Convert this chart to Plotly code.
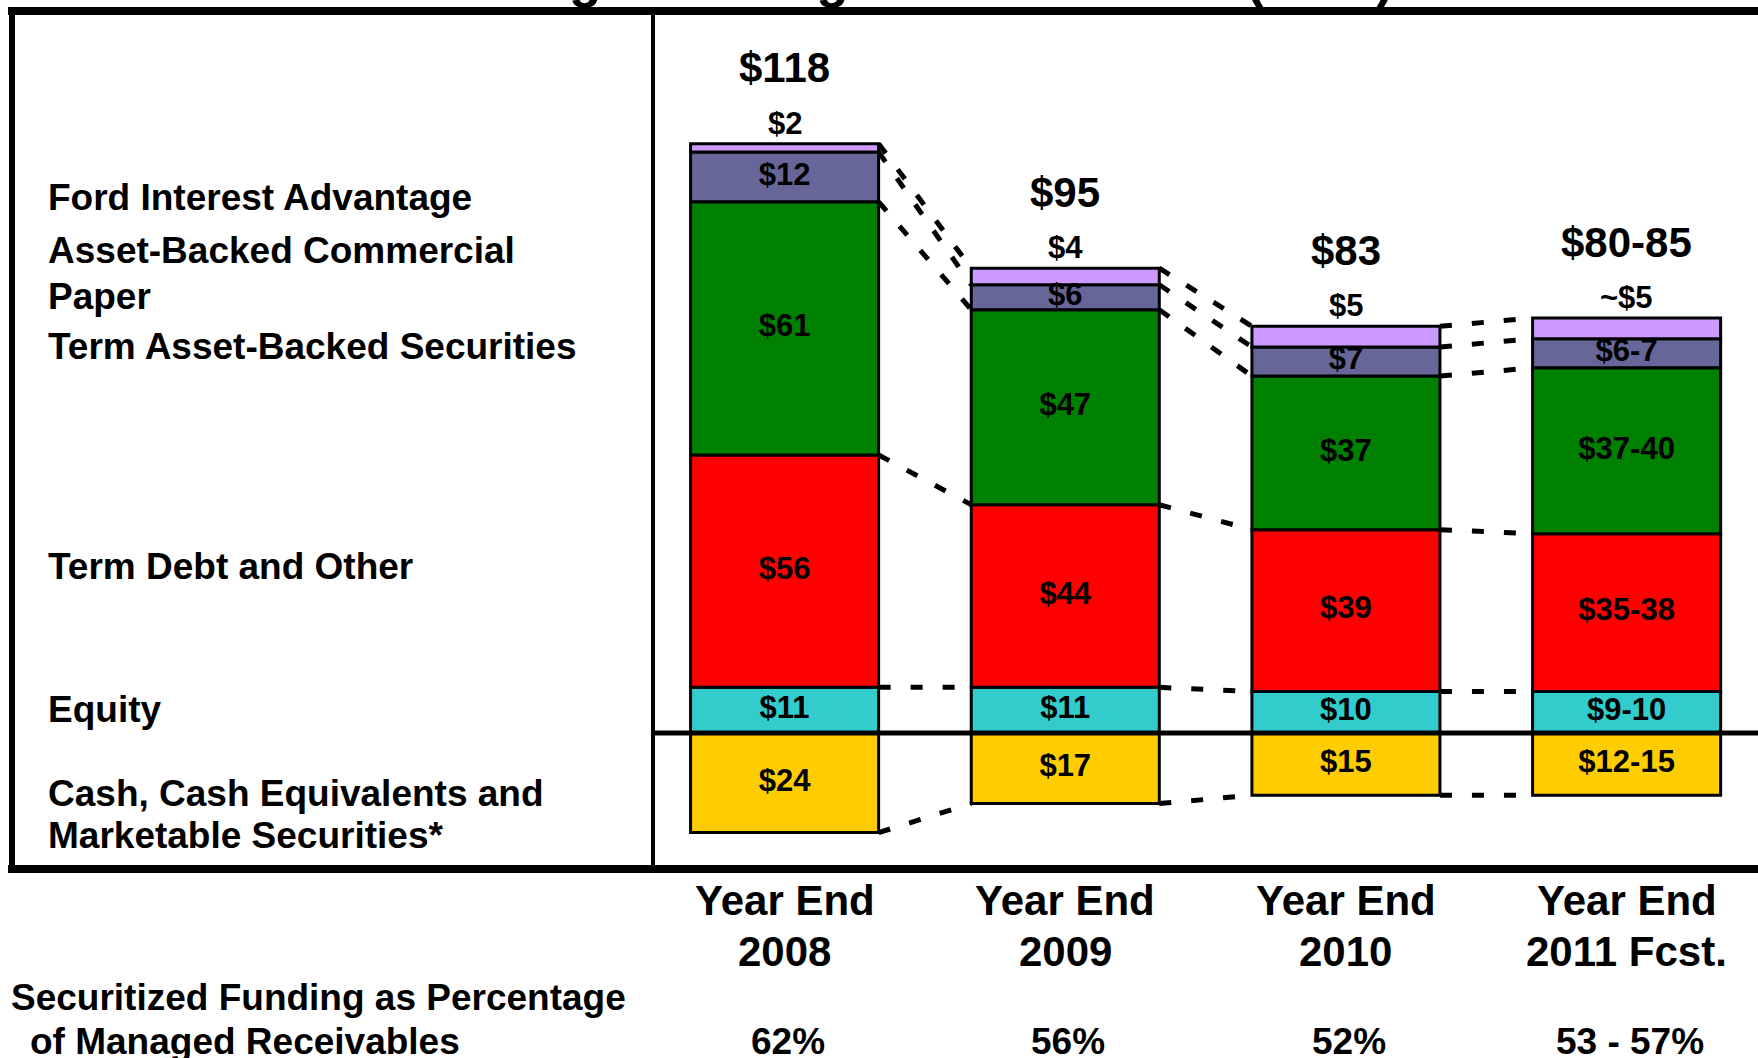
import plotly.graph_objects as go

W, H = 1758, 1058
FONT = "Liberation Sans, Arial, Helvetica, sans-serif"

# ---------------- data ----------------
categories = ["Year End<br>2008", "Year End<br>2009", "Year End<br>2010", "Year End<br>2011 Fcst."]
totals_labels = ["$118", "$95", "$83", "$80-85"]
securitized_pct = ["62%", "56%", "52%", "53 - 57%"]

fia = [2, 4, 5, 5]
fia_labels = ["$2", "$4", "$5", "~$5"]
abcp = [12, 6, 7, 7]
abcp_labels = ["$12", "$6", "$7", "$6-7"]
term_abs = [61, 47, 37, 40]
term_abs_labels = ["$61", "$47", "$37", "$37-40"]
term_debt = [56, 44, 39, 38]
term_debt_labels = ["$56", "$44", "$39", "$35-38"]
equity = [11, 11, 10, 10]
equity_labels = ["$11", "$11", "$10", "$9-10"]
cash = [24, 17, 15, 15]
cash_labels = ["$24", "$17", "$15", "$12-15"]

legend_labels = [
    ("Ford Interest Advantage", 197),
    ("Asset-Backed Commercial", 251),
    ("Paper", 296),
    ("Term Asset-Backed Securities", 346),
    ("Term Debt and Other", 566),
    ("Equity", 709),
    ("Cash, Cash Equivalents and", 793),
    ("Marketable Securities*", 835),
]
title_text = "Ford Credit Funding of Managed Receivables (Bils.)"
pct_row_label = ["Securitized Funding as Percentage", "of Managed Receivables"]

colors = {
    "fia": "#CC99FF",
    "abcp": "#666699",
    "tabs": "#008000",
    "td": "#FF0000",
    "eq": "#33CCCC",
    "cash": "#FFCC00",
}

# ---------------- geometry helpers ----------------
X_PX = 280.67   # pixels per category step
X0 = 784.6      # pixel of first category centre
Y_PX = 4.15     # pixels per $bn
Y0 = 733        # pixel of zero line
BAR_W = 0.67
SEG_FONT = 31

def px(xp):
    return xp / W

def py(yp):
    return 1 - yp / H

xs = list(range(len(categories)))

fig = go.Figure()

stack = [
    ("Equity", equity, colors["eq"]),
    ("Term Debt and Other", term_debt, colors["td"]),
    ("Term Asset-Backed Securities", term_abs, colors["tabs"]),
    ("Asset-Backed Commercial Paper", abcp, colors["abcp"]),
    ("Ford Interest Advantage", fia, colors["fia"]),
]
for name, vals, col in stack:
    fig.add_trace(go.Bar(x=xs, y=vals, width=BAR_W, name=name,
                         marker=dict(color=col, line=dict(color="black", width=3))))
fig.add_trace(go.Bar(x=xs, y=[-c for c in cash], width=BAR_W, name="Cash",
                     marker=dict(color=colors["cash"], line=dict(color="black", width=3))))

# cumulative levels
levels = []
tops = []
for i in xs:
    l1 = equity[i]
    l2 = l1 + term_debt[i]
    l3 = l2 + term_abs[i]
    l4 = l3 + abcp[i]
    l5 = l4 + fia[i]
    levels.append([-cash[i], l1, l2, l3, l4, l5])
    tops.append(l5)

# connector dashed lines
cx, cy = [], []
for i in xs[:-1]:
    for j in range(6):
        cx += [i + BAR_W / 2, i + 1 - BAR_W / 2, None]
        cy += [levels[i][j], levels[i + 1][j], None]
fig.add_trace(go.Scatter(x=cx, y=cy, mode="lines",
                         line=dict(color="black", width=5, dash="12px,20px"),
                         hoverinfo="skip"))

# labels inside segments
tx, ty, tt = [], [], []
for i in xs:
    base = 0
    for vals, labs in [(equity, equity_labels), (term_debt, term_debt_labels),
                       (term_abs, term_abs_labels), (abcp, abcp_labels)]:
        tx.append(i)
        ty.append(base + vals[i] / 2)
        tt.append("<b>" + labs[i] + "</b>")
        base += vals[i]
    tx.append(i)
    ty.append(-cash[i] / 2)
    tt.append("<b>" + cash_labels[i] + "</b>")
fig.add_trace(go.Scatter(x=tx, y=ty, mode="text", text=tt,
                         textfont=dict(family=FONT, size=SEG_FONT, color="black"),
                         hoverinfo="skip", cliponaxis=False))

ann = []
for i in xs:
    # totals
    ann.append(dict(x=i, y=tops[i], xref="x", yref="y", text="<b>" + totals_labels[i] + "</b>",
                    showarrow=False, yanchor="middle", yshift=76,
                    font=dict(family=FONT, size=42, color="black")))
    # FIA label above bar
    ann.append(dict(x=i, y=tops[i], xref="x", yref="y", text="<b>" + fia_labels[i] + "</b>",
                    showarrow=False, yanchor="bottom", yshift=1,
                    font=dict(family=FONT, size=SEG_FONT, color="black")))
    # category labels
    lines = categories[i].split("<br>")
    for k, ln in enumerate(lines):
        ann.append(dict(x=i, y=py(900 + 51 * k), xref="x", yref="paper", text="<b>" + ln + "</b>",
                        showarrow=False, yanchor="middle",
                        font=dict(family=FONT, size=42, color="black")))
    # percentage row
    ann.append(dict(x=i, y=py(1041), xref="x", yref="paper", text="<b>" + securitized_pct[i] + "</b>",
                    showarrow=False, yanchor="middle", xshift=3,
                    font=dict(family=FONT, size=37, color="black")))

for txt, yp in legend_labels:
    ann.append(dict(x=px(46), y=py(yp), xref="paper", yref="paper", text="<b>" + txt + "</b>",
                    showarrow=False, xanchor="left", yanchor="middle",
                    font=dict(family=FONT, size=37, color="black")))

ann.append(dict(x=px(9), y=py(997), xref="paper", yref="paper", text="<b>" + pct_row_label[0] + "</b>",
                showarrow=False, xanchor="left", yanchor="middle",
                font=dict(family=FONT, size=37, color="black")))
ann.append(dict(x=px(28), y=py(1041), xref="paper", yref="paper", text="<b>" + pct_row_label[1] + "</b>",
                showarrow=False, xanchor="left", yanchor="middle",
                font=dict(family=FONT, size=37, color="black")))

# title, mostly cut off above the top edge
ann.append(dict(x=px(90), y=py(-22), xref="paper", yref="paper", text="<b>" + title_text + "</b>",
                showarrow=False, xanchor="left", yanchor="middle",
                font=dict(family=FONT, size=53, color="black")))

shapes = [
    # top border
    dict(type="line", xref="paper", yref="paper", x0=px(8), x1=1, y0=py(11), y1=py(11),
         line=dict(color="black", width=8), layer="above"),
    # left border
    dict(type="line", xref="paper", yref="paper", x0=px(12), x1=px(12), y0=py(7), y1=py(873),
         line=dict(color="black", width=6), layer="above"),
    # divider
    dict(type="line", xref="paper", yref="paper", x0=px(653), x1=px(653), y0=py(11), y1=py(869),
         line=dict(color="black", width=4), layer="above"),
    # bottom border
    dict(type="line", xref="paper", yref="paper", x0=px(8), x1=1, y0=py(869), y1=py(869),
         line=dict(color="black", width=8), layer="above"),
    # zero line
    dict(type="line", xref="paper", yref="y", x0=px(653), x1=1, y0=0, y1=0,
         line=dict(color="black", width=5), layer="above"),
]

fig.update_layout(
    width=W, height=H,
    margin=dict(l=0, r=0, t=0, b=0),
    barmode="relative",
    showlegend=False,
    paper_bgcolor="white",
    plot_bgcolor="white",
    font=dict(family=FONT, color="black"),
    xaxis=dict(visible=False, range=[-X0 / X_PX, (W - X0) / X_PX], fixedrange=True),
    yaxis=dict(visible=False, range=[-(H - Y0) / Y_PX, Y0 / Y_PX], fixedrange=True),
    annotations=ann,
    shapes=shapes,
)

fig.write_html("out.html", config={"displayModeBar": False},
               post_script="document.body.style.margin='0';document.body.style.overflow='hidden';")
